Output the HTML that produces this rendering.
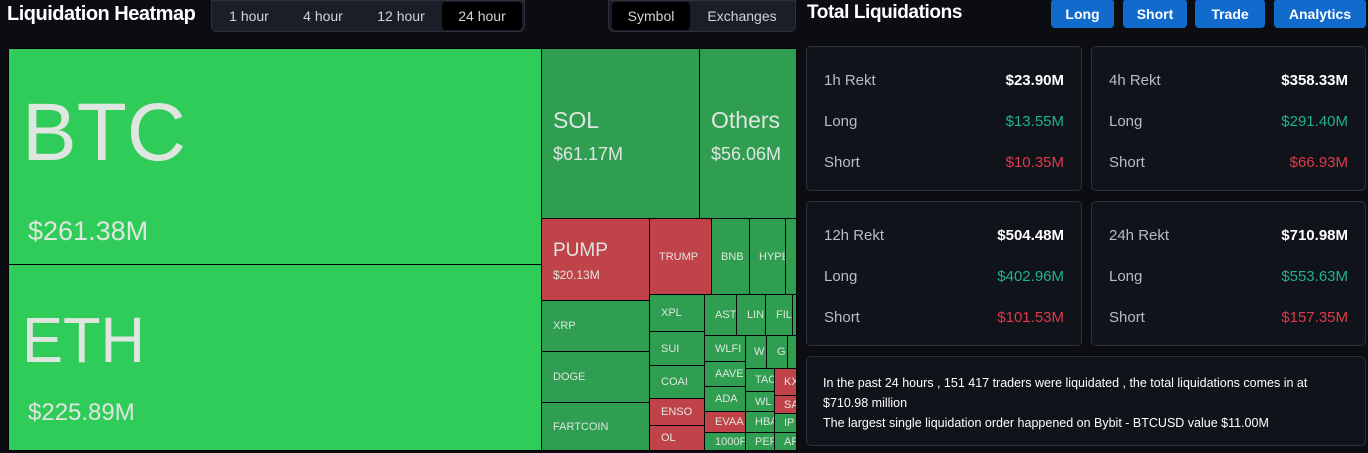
<!DOCTYPE html><html><head><style>
body{margin:0;width:1368px;height:453px;background:#0b0d13;font-family:"Liberation Sans",sans-serif;overflow:hidden;position:relative;color:#e6e6e6}
.a{position:absolute;box-sizing:border-box}
.t{position:absolute;box-sizing:border-box;border:1px solid #000;color:#dfe6df;font-size:11px;overflow:hidden;white-space:nowrap;padding-left:9px;display:flex;align-items:center}
.g{background:#2f9e50}.r{background:#c1434a}.b{background:#2fcc5a}
.card{position:absolute;box-sizing:border-box;background:#10131a;border:1px solid #2c3039;border-radius:5px}
.row{position:absolute;left:17px;right:17px;display:flex;justify-content:space-between;font-size:15px;color:#b8bcc4}
.row span:last-child{font-weight:bold}
.btn{position:absolute;top:0;height:29px;background:#116bcc;border-radius:4px;color:#fff;font-weight:bold;font-size:14px;display:flex;align-items:center;justify-content:center}
.seg{font-size:14px;color:#cfd3da;position:absolute;top:2px;height:28px;display:flex;align-items:center;justify-content:center;border-radius:4px}
</style></head><body>
<div class="a" style="left:7px;top:3px;font-size:20px;font-weight:bold;color:#fff;letter-spacing:-0.5px">Liquidation Heatmap</div>
<div class="a" style="left:211px;top:0;width:314px;height:32px;background:#1b1e26;border-radius:0 0 6px 6px;border:1px solid #2c3039"></div>
<div class="seg" style="left:219px;width:60px">1 hour</div>
<div class="seg" style="left:290px;width:66px">4 hour</div>
<div class="seg" style="left:364px;width:74px">12 hour</div>
<div class="seg" style="left:442px;width:80px;background:#000">24 hour</div>
<div class="a" style="left:608px;top:0;width:188px;height:32px;background:#1b1e26;border-radius:0 0 6px 6px;border:1px solid #2c3039"></div>
<div class="seg" style="left:612px;width:78px;background:#000">Symbol</div>
<div class="seg" style="left:694px;width:96px">Exchanges</div>

<div class="t b" style="left:8px;top:48px;width:534px;height:217px;display:block;padding-left:13px"><div style="font-size:82px;color:#dfe6df;margin-top:43px;line-height:1">BTC</div><div style="font-size:27px;margin-top:42px;padding-left:6px">$261.38M</div></div>
<div class="t b" style="left:8px;top:264px;width:534px;height:187px;display:block;padding-left:13px"><div style="font-size:64px;line-height:1;margin-top:43px;transform:scaleX(0.96);transform-origin:left">ETH</div><div style="font-size:24px;margin-top:27px;padding-left:6px">$225.89M</div></div>
<div class="t g" style="left:541px;top:48px;width:159px;height:171px;display:block;padding-left:11px"><div style="font-size:23px;margin-top:58px">SOL</div><div style="font-size:18px;margin-top:10px">$61.17M</div></div>
<div class="t g" style="left:699px;top:48px;width:98px;height:171px;display:block;padding-left:11px"><div style="font-size:23px;margin-top:58px">Others</div><div style="font-size:18px;margin-top:10px">$56.06M</div></div>
<div class="t r" style="left:541px;top:218px;width:109px;height:83px;display:block;padding-left:11px"><div style="font-size:19px;margin-top:21px">PUMP</div><div style="font-size:12px;margin-top:6px">$20.13M</div></div>
<div class="t r" style="left:649px;top:218px;width:63px;height:77px">TRUMP</div>
<div class="t g" style="left:711px;top:218px;width:39px;height:77px">BNB</div>
<div class="t g" style="left:749px;top:218px;width:37px;height:77px">HYPE</div>
<div class="t g" style="left:785px;top:218px;width:12px;height:77px"></div>
<div class="t g" style="left:541px;top:300px;width:109px;height:52px;padding-left:11px">XRP</div>
<div class="t g" style="left:541px;top:351px;width:109px;height:52px;padding-left:11px">DOGE</div>
<div class="t g" style="left:541px;top:402px;width:109px;height:49px;padding-left:11px">FARTCOIN</div>
<div class="t g" style="left:649px;top:294px;width:56px;height:38px;padding-left:11px">XPL</div>
<div class="t g" style="left:649px;top:331px;width:56px;height:35px;padding-left:11px">SUI</div>
<div class="t g" style="left:649px;top:365px;width:56px;height:34px;padding-left:11px">COAI</div>
<div class="t r" style="left:649px;top:398px;width:56px;height:28px;padding-left:11px">ENSO</div>
<div class="t r" style="left:649px;top:425px;width:56px;height:26px;padding-left:11px">OL</div>
<div class="t g" style="left:704px;top:294px;width:33px;height:42px;padding-left:10px">AST</div>
<div class="t g" style="left:736px;top:294px;width:30px;height:42px;padding-left:10px">LIN</div>
<div class="t g" style="left:765px;top:294px;width:28px;height:42px;padding-left:10px">FIL</div>
<div class="t g" style="left:792px;top:294px;width:5px;height:42px;padding:0"></div>
<div class="t g" style="left:704px;top:335px;width:42px;height:27px;padding-left:10px">WLFI</div>
<div class="t g" style="left:704px;top:361px;width:42px;height:26px;padding-left:10px">AAVE</div>
<div class="t g" style="left:704px;top:386px;width:42px;height:26px;padding-left:10px">ADA</div>
<div class="t r" style="left:704px;top:411px;width:42px;height:22px;padding-left:10px">EVAA</div>
<div class="t g" style="left:704px;top:432px;width:42px;height:19px;padding-left:10px">1000F</div>
<div class="t g" style="left:745px;top:335px;width:22px;height:34px;padding-left:8px">W</div>
<div class="t g" style="left:766px;top:335px;width:22px;height:34px;padding-left:10px">G</div>
<div class="t g" style="left:787px;top:335px;width:10px;height:34px;padding:0"></div>
<div class="t g" style="left:745px;top:368px;width:30px;height:24px;padding-left:9px">TAC</div>
<div class="t r" style="left:774px;top:368px;width:23px;height:28px;padding-left:9px">KX</div>
<div class="t g" style="left:745px;top:391px;width:30px;height:21px;padding-left:9px">WL</div>
<div class="t r" style="left:774px;top:395px;width:23px;height:19px;padding-left:9px">SA</div>
<div class="t g" style="left:745px;top:411px;width:30px;height:22px;padding-left:9px">HBA</div>
<div class="t g" style="left:774px;top:413px;width:23px;height:20px;padding-left:9px">IP</div>
<div class="t g" style="left:745px;top:432px;width:30px;height:19px;padding-left:9px">PEF</div>
<div class="t g" style="left:774px;top:432px;width:23px;height:19px;padding-left:9px">AP</div>

<div class="a" style="left:807px;top:2px;font-size:19px;font-weight:bold;color:#fff;letter-spacing:-0.4px">Total Liquidations</div>
<div class="btn" style="left:1051px;width:63px;top:-1px">Long</div>
<div class="btn" style="left:1123px;width:64px;top:-1px">Short</div>
<div class="btn" style="left:1195px;width:70px;top:-1px">Trade</div>
<div class="btn" style="left:1274px;width:92px;top:-1px">Analytics</div>

<div class="card" style="left:806px;top:46px;width:276px;height:145px">
<div class="row" style="top:25px"><span>1h Rekt</span><span style="color:#fff">$23.90M</span></div>
<div class="row" style="top:66px"><span>Long</span><span style="color:#1fb38a;font-weight:normal">$13.55M</span></div>
<div class="row" style="top:107px"><span>Short</span><span style="color:#e0394a;font-weight:normal">$10.35M</span></div></div>
<div class="card" style="left:1091px;top:46px;width:275px;height:145px">
<div class="row" style="top:25px"><span>4h Rekt</span><span style="color:#fff">$358.33M</span></div>
<div class="row" style="top:66px"><span>Long</span><span style="color:#1fb38a;font-weight:normal">$291.40M</span></div>
<div class="row" style="top:107px"><span>Short</span><span style="color:#e0394a;font-weight:normal">$66.93M</span></div></div>
<div class="card" style="left:806px;top:201px;width:276px;height:145px">
<div class="row" style="top:25px"><span>12h Rekt</span><span style="color:#fff">$504.48M</span></div>
<div class="row" style="top:66px"><span>Long</span><span style="color:#1fb38a;font-weight:normal">$402.96M</span></div>
<div class="row" style="top:107px"><span>Short</span><span style="color:#e0394a;font-weight:normal">$101.53M</span></div></div>
<div class="card" style="left:1091px;top:201px;width:275px;height:145px">
<div class="row" style="top:25px"><span>24h Rekt</span><span style="color:#fff">$710.98M</span></div>
<div class="row" style="top:66px"><span>Long</span><span style="color:#1fb38a;font-weight:normal">$553.63M</span></div>
<div class="row" style="top:107px"><span>Short</span><span style="color:#e0394a;font-weight:normal">$157.35M</span></div></div>
<div class="card" style="left:806px;top:356px;width:560px;height:90px;font-size:12.5px;color:#fff;line-height:20px;padding:16px 16px">In the past 24 hours , 151 417 traders were liquidated , the total liquidations comes in at $710.98 million<br>The largest single liquidation order happened on Bybit - BTCUSD value $11.00M</div>
</body></html>
